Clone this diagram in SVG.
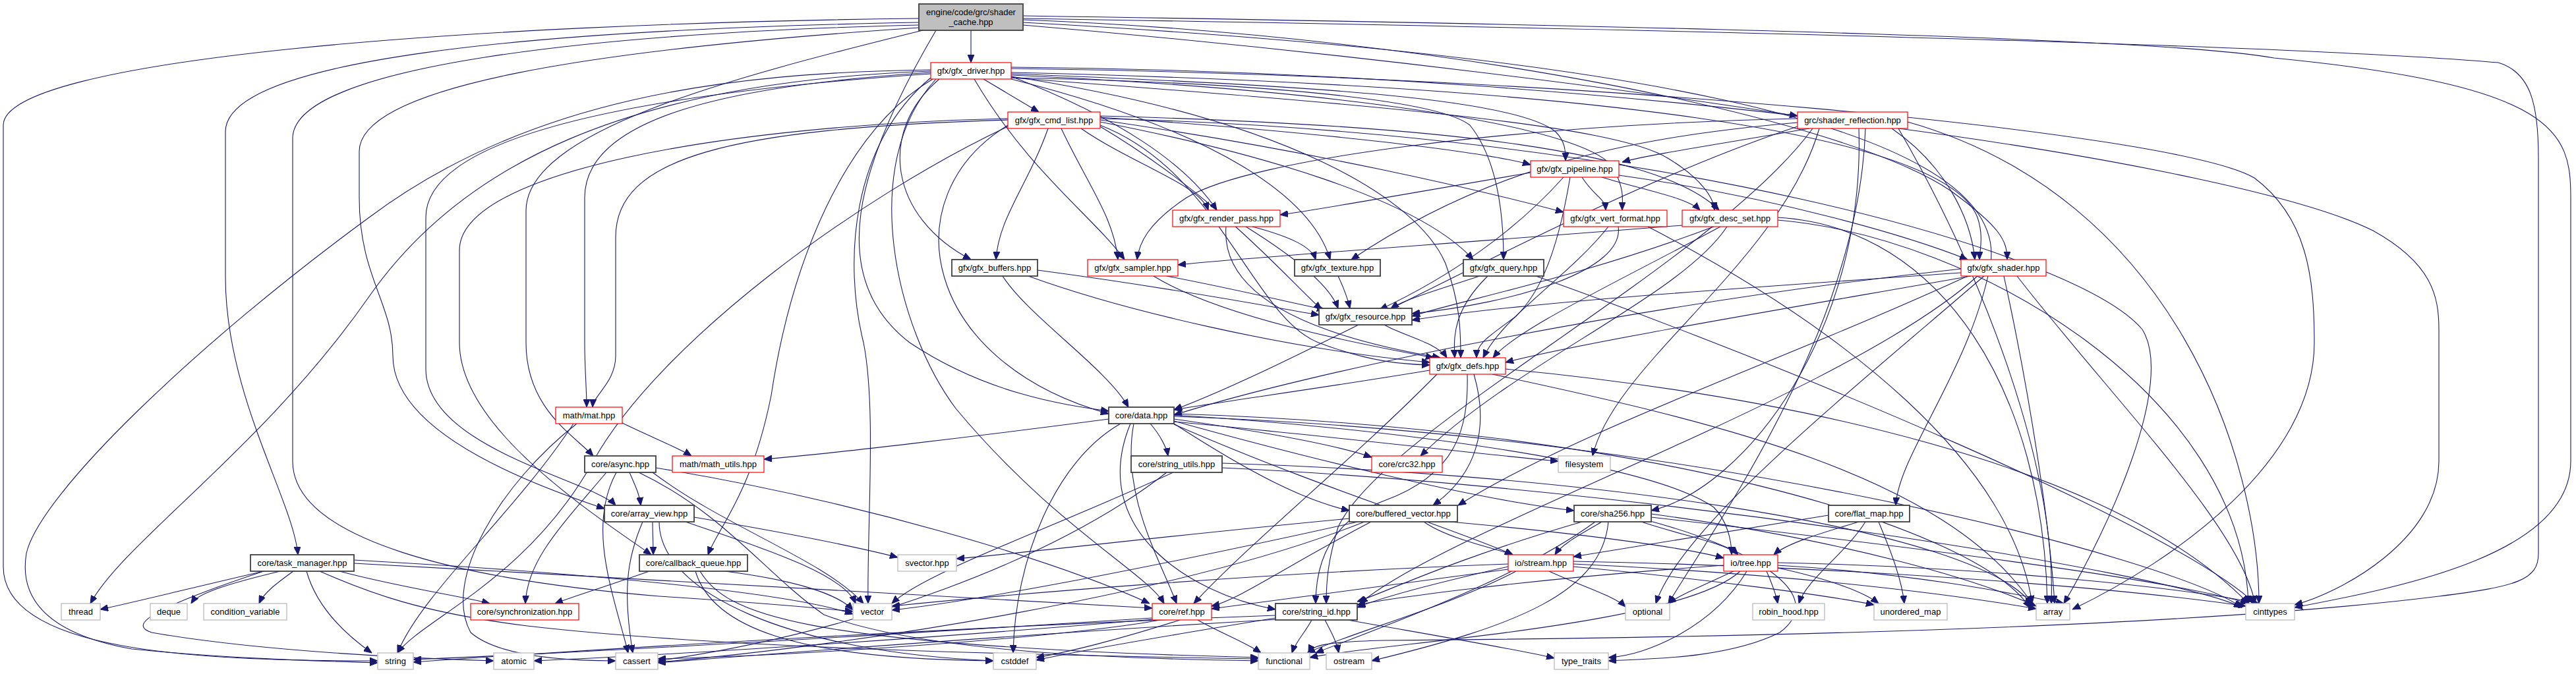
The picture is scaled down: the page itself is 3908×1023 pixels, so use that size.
<svg xmlns="http://www.w3.org/2000/svg" width="3908" height="1023" viewBox="0 0 3908 1023">
<style>
.e path{fill:none;stroke:#191970;stroke-width:1.1;marker-end:url(#ah)}
.red{fill:#fff;stroke:#ff0000;stroke-width:1.2}
.blk{fill:#fff;stroke:#404040;stroke-width:1.8}
.ext{fill:#fff;stroke:#bfbfbf;stroke-width:1.4}
.root{fill:#bfbfbf;stroke:#404040;stroke-width:1.8}
text{font-family:"Liberation Sans",Arial,sans-serif;font-size:13px;text-anchor:middle;fill:#000}
</style>
<defs>
<marker id="ah" markerUnits="userSpaceOnUse" markerWidth="12" markerHeight="10" refX="12" refY="5" orient="auto"><path d="M0,0 L12,5 L0,10 z" fill="#191970" stroke="#191970" stroke-width="1"/></marker>
</defs>
<rect width="3908" height="1023" fill="#fff"/>
<g id="connectors" class="e">
<path d="M1473,46 L1473,95"/>
<path d="M1552,38 C2050,80 2500,140 2727,176"/>
<path d="M1394,28 C700,36 5,90 5,190 L5,860 C5,990 300,1003 573,1003"/>
<path d="M1394,34 C800,45 342,90 342,200 L342,420 C342,600 445,760 452,842"/>
<path d="M1394,38 C900,50 444,100 444,210 L444,700 C444,820 700,880 1000,905 C1200,918 1270,926 1294,928"/>
<path d="M1394,42 C900,75 545,130 545,230 L545,300 C545,420 596,460 596,540 C596,660 820,740 917,772"/>
<path d="M1400,46 C1100,120 798,200 798,320 L798,520 C798,620 870,660 900,692"/>
<path d="M1420,46 C1300,250 1250,420 1380,520 C1500,600 1620,615 1682,624"/>
<path d="M1552,30 C2200,55 2800,180 2960,290 C3035,345 3045,365 3045,394"/>
<path d="M1552,34 C2400,80 3050,180 3020,400 C2990,560 2880,690 2876,767"/>
<path d="M1552,24 C2600,40 3300,60 3450,88 C3880,130 3900,200 3900,300 L3900,700 C3900,840 3650,890 3481,922"/>
<path d="M1552,28 C2600,45 3500,70 3790,95 C3840,110 3851,160 3851,240 L3851,840 C3851,880 3820,890 3700,905 C3300,955 2600,968 2100,972 C2010,974 1990,980 1985,991"/>
<path d="M1492,120 L1576,170"/>
<path d="M1534,116 C1700,180 1800,250 1846,319"/>
<path d="M1478,120 C1560,260 1660,330 1706,394"/>
<path d="M1425,120 C1330,200 1350,330 1473,394"/>
<path d="M1415,120 C1280,200 1200,400 1170,600 C1140,750 1090,800 1074,842"/>
<path d="M1420,120 C1300,250 1360,500 1450,620 C1600,800 1740,870 1766,916"/>
<path d="M1412,118 C1290,220 1280,400 1310,520 C1330,620 1315,800 1317,916"/>
<path d="M1412,110 C1100,130 887,180 887,300 L887,520 C887,560 890,590 890,618"/>
<path d="M1412,112 C1000,140 646,200 646,330 L646,560 C646,680 900,730 934,767"/>
<path d="M1412,108 C950,125 700,250 560,450 C400,680 190,820 137,916"/>
<path d="M1412,106 C1100,110 800,150 560,330 C300,520 60,750 40,840 C30,900 60,960 200,985 C350,1000 480,1003 573,1006"/>
<path d="M1534,112 C2000,130 2300,150 2360,200 C2375,215 2375,230 2375,244"/>
<path d="M1534,114 C2100,140 2430,200 2450,260 C2465,290 2461,305 2461,319"/>
<path d="M1534,118 C2100,160 2450,190 2530,240 C2580,270 2600,300 2601,319"/>
<path d="M1534,118 C1900,125 2180,150 2230,190 C2270,240 2281,320 2281,394"/>
<path d="M1534,110 C2400,130 2950,200 3000,330 C3010,360 3003,380 3003,394"/>
<path d="M1534,120 C1850,200 1990,300 2018,394"/>
<path d="M1534,116 C1950,180 2150,300 2193,400 C2215,460 2216,500 2216,543"/>
<path d="M1534,104 C2400,115 3300,200 3420,270 C3500,330 3511,420 3511,520 C3511,700 3300,850 3144,925"/>
<path d="M1534,102 C2500,110 3400,250 3600,350 C3690,400 3700,450 3700,500 L3700,700 C3700,820 3550,900 3481,918"/>
<path d="M1529,180 C1100,190 697,260 697,380 L697,520 C697,650 900,780 988,842"/>
<path d="M1640,195 C1720,250 1820,280 1833,319"/>
<path d="M1590,195 C1560,280 1515,330 1511,394"/>
<path d="M1610,195 C1650,280 1690,330 1696,394"/>
<path d="M1669,185 C1900,230 2150,300 2235,394"/>
<path d="M1669,178 C2000,200 2250,230 2322,250"/>
<path d="M1669,182 C2000,230 2250,290 2372,322"/>
<path d="M1669,176 C2200,190 2520,230 2608,319"/>
<path d="M1529,182 C1100,195 934,240 934,360 L934,540 C934,580 900,600 899,618"/>
<path d="M1669,190 C1850,260 1900,480 2000,520 C2080,550 2130,553 2169,554"/>
<path d="M1669,192 C1850,300 1950,420 2005,470"/>
<path d="M1529,190 C1350,300 1400,550 1682,628"/>
<path d="M1529,192 C1300,300 1000,520 900,700 C800,880 640,940 603,991"/>
<path d="M1669,180 C2500,200 3150,380 3250,500 C3300,580 3200,800 3131,916"/>
<path d="M2745,195 C2600,220 2500,235 2461,246"/>
<path d="M2870,195 C2950,250 2990,330 2996,394"/>
<path d="M2727,180 C2300,190 1900,240 1800,300 C1740,340 1728,370 1725,394"/>
<path d="M2727,186 C2450,210 2250,260 2050,394"/>
<path d="M2820,195 C2830,500 2650,740 2505,775"/>
<path d="M2760,195 C2700,400 2450,550 2416,692"/>
<path d="M2727,192 C2400,300 2000,540 1781,622"/>
<path d="M2750,195 C2600,400 2100,650 2030,800 C2015,850 2012,880 2012,916"/>
<path d="M2830,195 C2820,500 2600,800 2531,916"/>
<path d="M2880,195 C3000,400 3120,700 3112,916"/>
<path d="M2894,185 C3300,300 3427,700 3427,916"/>
<path d="M2322,262 C2100,300 1990,320 1942,326"/>
<path d="M2372,269 C2300,350 2200,420 2093,470"/>
<path d="M2400,269 C2420,300 2435,300 2436,319"/>
<path d="M2430,269 C2500,290 2560,300 2579,319"/>
<path d="M2456,266 C2700,300 2900,360 2985,394"/>
<path d="M2382,269 C2360,400 2330,450 2300,480 C2260,510 2240,520 2240,543"/>
<path d="M1900,344 C1960,360 1990,375 1996,394"/>
<path d="M1890,344 C1980,400 2020,440 2030,468"/>
<path d="M1860,344 C1850,470 2050,520 2185,543"/>
<path d="M2440,344 C2380,420 2280,480 2250,543"/>
<path d="M2455,344 C2465,410 2300,460 2142,476"/>
<path d="M2500,344 C2800,500 3050,700 3083,916"/>
<path d="M2552,342 C2200,370 1900,390 1787,402"/>
<path d="M2600,344 C2400,420 2200,460 2142,480"/>
<path d="M2610,344 C2450,430 2300,500 2265,543"/>
<path d="M2697,330 C2950,345 3100,600 3106,916"/>
<path d="M2697,334 C3000,360 3400,600 3411,916"/>
<path d="M2620,344 C2550,450 2300,550 2155,692"/>
<path d="M1574,410 C1800,440 1950,470 2001,478"/>
<path d="M1560,419 C1700,470 1950,530 2169,550"/>
<path d="M1521,419 C1560,480 1680,560 1712,618"/>
<path d="M1770,419 C1880,440 1960,460 2010,470"/>
<path d="M1750,419 C1850,480 2050,520 2175,543"/>
<path d="M2030,419 C2040,440 2045,455 2048,468"/>
<path d="M2245,419 C2180,440 2130,455 2110,468"/>
<path d="M2257,419 C2205,470 2205,510 2207,543"/>
<path d="M2330,419 C2700,550 3300,800 3421,916"/>
<path d="M2975,414 C2600,440 2300,460 2142,486"/>
<path d="M2990,419 C2700,470 2400,520 2284,550"/>
<path d="M2975,408 C2500,460 2000,560 1781,630"/>
<path d="M3000,419 C2800,600 2200,800 2063,916"/>
<path d="M3040,419 C3080,600 3110,800 3117,916"/>
<path d="M3060,419 C3200,600 3400,800 3421,916"/>
<path d="M2985,419 C2700,550 2400,650 2212,767"/>
<path d="M3010,419 C2800,600 2550,800 2512,916"/>
<path d="M2100,493 C2130,510 2180,520 2195,543"/>
<path d="M2169,562 C2000,590 1850,610 1781,622"/>
<path d="M2226,568 C2228,650 2210,720 2100,760 C2020,790 1996,850 1996,916"/>
<path d="M2236,568 C2260,650 2240,720 2174,767"/>
<path d="M2180,568 C2050,700 1900,820 1811,916"/>
<path d="M2264,568 C2600,640 2950,720 3083,916"/>
<path d="M2284,560 C2700,600 3200,700 3411,916"/>
<path d="M940,640 C980,660 1030,680 1049,692"/>
<path d="M870,643 C780,780 640,900 603,991"/>
<path d="M875,643 C760,733 670,880 714,960 C760,1000 880,1003 934,1003"/>
<path d="M1682,636 C1500,660 1250,690 1159,697"/>
<path d="M1745,643 C1760,660 1770,680 1772,692"/>
<path d="M1781,636 C1950,660 2040,680 2081,694"/>
<path d="M1781,640 C2000,660 2250,690 2364,700"/>
<path d="M1781,643 C1900,720 1980,760 2047,775"/>
<path d="M1781,639 C2000,700 2250,760 2388,775"/>
<path d="M1781,630 C2100,650 2500,700 2600,770 C2620,790 2627,820 2627,842"/>
<path d="M1781,644 C2000,740 2200,800 2295,842"/>
<path d="M1720,643 C1700,750 1760,850 1785,916"/>
<path d="M1700,643 C1600,700 1540,850 1537,991"/>
<path d="M1715,643 C1650,800 1800,900 1935,925"/>
<path d="M1781,628 C2500,650 3000,800 3080,923"/>
<path d="M1781,632 C2600,660 3300,850 3401,922"/>
<path d="M955,717 C965,740 970,750 972,767"/>
<path d="M920,717 C850,800 800,850 797,916"/>
<path d="M935,717 C890,800 930,900 953,991"/>
<path d="M995,710 C1300,760 1600,850 1744,916"/>
<path d="M990,717 C1100,800 1250,850 1310,916"/>
<path d="M969,717 C1100,780 1160,870 1250,933 C1400,990 1700,1000 1909,1003"/>
<path d="M1053,785 C1200,810 1300,830 1362,846"/>
<path d="M1040,792 C1150,830 1280,870 1298,916"/>
<path d="M975,792 C950,850 945,900 960,991"/>
<path d="M990,792 C990,810 991,820 991,842"/>
<path d="M1000,792 C1000,900 1200,990 1507,1003"/>
<path d="M400,867 C300,890 200,915 152,925"/>
<path d="M425,867 C350,885 300,900 290,916"/>
<path d="M445,867 C420,885 400,900 393,916"/>
<path d="M515,867 C600,890 700,905 743,916"/>
<path d="M465,867 C480,920 520,960 564,991"/>
<path d="M400,867 C210,930 200,950 230,960 C400,990 650,1000 749,1003"/>
<path d="M537,850 C900,870 1200,900 1294,932"/>
<path d="M537,855 C1000,880 1500,910 1748,923"/>
<path d="M485,867 C560,900 640,930 800,950 C1100,985 1600,995 1909,1000"/>
<path d="M985,867 C920,890 870,905 842,916"/>
<path d="M1100,867 C1200,880 1270,900 1294,926"/>
<path d="M1055,867 C1080,950 1200,1000 1507,1003"/>
<path d="M1062,867 C1100,930 1200,980 1909,998"/>
<path d="M1780,717 C1600,800 1400,870 1353,916"/>
<path d="M1770,717 C1600,850 1300,960 998,1003"/>
<path d="M1854,703 C2400,720 3000,800 3083,918"/>
<path d="M1854,710 C2500,740 3300,870 3401,922"/>
<path d="M2160,792 C2200,820 2280,835 2295,842"/>
<path d="M2047,787 C1800,810 1550,840 1451,848"/>
<path d="M2060,792 C1800,850 1500,910 1353,926"/>
<path d="M2080,792 C1950,860 1880,910 1838,920"/>
<path d="M2070,792 C1800,900 1300,980 998,1005"/>
<path d="M2200,792 C2400,810 2550,830 2615,847"/>
<path d="M2430,792 C2400,810 2370,825 2359,842"/>
<path d="M2490,792 C2560,815 2620,825 2637,842"/>
<path d="M2400,792 C2200,850 2100,900 2059,913"/>
<path d="M2420,792 C2300,880 2100,950 1996,991"/>
<path d="M2440,792 C2430,900 2300,950 2081,1003"/>
<path d="M2500,790 C2650,830 2780,900 2700,960 C2620,1000 2500,1000 2440,1003"/>
<path d="M2505,780 C2800,820 3000,880 3089,920"/>
<path d="M2505,785 C2900,830 3300,880 3411,916"/>
<path d="M2774,782 C2600,810 2450,835 2387,845"/>
<path d="M2820,792 C2760,810 2710,825 2691,842"/>
<path d="M2830,792 C2800,840 2740,880 2729,916"/>
<path d="M2850,792 C2870,840 2885,880 2889,916"/>
<path d="M2288,860 C2200,880 2100,905 2059,922"/>
<path d="M2288,864 C2100,890 1900,915 1838,924"/>
<path d="M2350,867 C2400,890 2450,905 2466,921"/>
<path d="M2387,860 C2600,880 2780,905 2843,918"/>
<path d="M2387,856 C2700,870 2950,900 3089,924"/>
<path d="M2387,852 C2800,860 3200,890 3407,920"/>
<path d="M2300,867 C2200,920 2050,960 1983,991"/>
<path d="M2288,856 C1900,870 1500,905 1353,920"/>
<path d="M2630,867 C2580,890 2545,905 2531,916"/>
<path d="M2680,867 C2690,890 2695,905 2697,916"/>
<path d="M2697,862 C2780,880 2830,900 2850,916"/>
<path d="M2697,858 C2900,870 3050,900 3131,916"/>
<path d="M2697,854 C3000,860 3300,890 3427,916"/>
<path d="M2615,858 C2300,880 2100,910 2059,918"/>
<path d="M2640,867 C2550,950 2100,975 1987,998"/>
<path d="M2650,867 C2600,950 2500,995 2440,998"/>
<path d="M1748,938 C1400,960 900,990 627,1001"/>
<path d="M1750,940 C1400,970 1000,995 810,1003"/>
<path d="M1760,941 C1600,970 1200,995 998,1000"/>
<path d="M1817,941 C1850,960 1890,975 1913,991"/>
<path d="M1790,941 C1700,970 1620,990 1572,998"/>
<path d="M1990,941 C1980,960 1965,975 1960,991"/>
<path d="M2010,941 C2020,960 2028,975 2031,991"/>
<path d="M2045,941 C2150,960 2300,985 2358,999"/>
<path d="M1935,938 C1800,960 1650,985 1572,1002"/>
<path d="M1935,934 C1500,950 900,985 627,1005"/>
<path d="M1940,940 C1600,960 1200,990 998,1006"/>
</g>
<g id="nodes">
<g id="node-root"><rect class="root" x="1394" y="6" width="158" height="40"/><text x="1473" y="23">engine/code/grc/shader</text><text x="1473" y="38">_cache.hpp</text></g>
<g id="node-gfx-driver"><rect class="red" x="1412" y="95" width="122" height="25"/><text x="1473" y="112">gfx/gfx_driver.hpp</text></g>
<g id="node-gfx-cmd-list"><rect class="red" x="1529" y="170" width="140" height="25"/><text x="1599" y="187">gfx/gfx_cmd_list.hpp</text></g>
<g id="node-shader-reflection"><rect class="red" x="2727" y="170" width="167" height="25"/><text x="2810.5" y="187">grc/shader_reflection.hpp</text></g>
<g id="node-gfx-pipeline"><rect class="red" x="2322" y="244" width="134" height="25"/><text x="2389" y="261">gfx/gfx_pipeline.hpp</text></g>
<g id="node-gfx-render-pass"><rect class="red" x="1779" y="319" width="163" height="25"/><text x="1860.5" y="336">gfx/gfx_render_pass.hpp</text></g>
<g id="node-gfx-vert-format"><rect class="red" x="2372" y="319" width="157" height="25"/><text x="2450.5" y="336">gfx/gfx_vert_format.hpp</text></g>
<g id="node-gfx-desc-set"><rect class="red" x="2552" y="319" width="145" height="25"/><text x="2624.5" y="336">gfx/gfx_desc_set.hpp</text></g>
<g id="node-gfx-buffers"><rect class="blk" x="1444" y="394" width="130" height="25"/><text x="1509" y="411">gfx/gfx_buffers.hpp</text></g>
<g id="node-gfx-sampler"><rect class="red" x="1650" y="394" width="137" height="25"/><text x="1718.5" y="411">gfx/gfx_sampler.hpp</text></g>
<g id="node-gfx-texture"><rect class="blk" x="1964" y="394" width="130" height="25"/><text x="2029" y="411">gfx/gfx_texture.hpp</text></g>
<g id="node-gfx-query"><rect class="blk" x="2220" y="394" width="122" height="25"/><text x="2281" y="411">gfx/gfx_query.hpp</text></g>
<g id="node-gfx-shader"><rect class="red" x="2975" y="394" width="129" height="25"/><text x="3039.5" y="411">gfx/gfx_shader.hpp</text></g>
<g id="node-gfx-resource"><rect class="blk" x="2001" y="468" width="141" height="25"/><text x="2071.5" y="485">gfx/gfx_resource.hpp</text></g>
<g id="node-gfx-defs"><rect class="red" x="2169" y="543" width="115" height="25"/><text x="2226.5" y="560">gfx/gfx_defs.hpp</text></g>
<g id="node-math-mat"><rect class="red" x="843" y="618" width="101" height="25"/><text x="893.5" y="635">math/mat.hpp</text></g>
<g id="node-core-data"><rect class="blk" x="1682" y="618" width="99" height="25"/><text x="1731.5" y="635">core/data.hpp</text></g>
<g id="node-core-async"><rect class="blk" x="887" y="692" width="108" height="25"/><text x="941" y="709">core/async.hpp</text></g>
<g id="node-math-utils"><rect class="red" x="1020" y="692" width="139" height="25"/><text x="1089.5" y="709">math/math_utils.hpp</text></g>
<g id="node-string-utils"><rect class="blk" x="1716" y="692" width="138" height="25"/><text x="1785" y="709">core/string_utils.hpp</text></g>
<g id="node-crc32"><rect class="red" x="2081" y="692" width="107" height="25"/><text x="2134.5" y="709">core/crc32.hpp</text></g>
<g id="node-filesystem"><rect class="ext" x="2364" y="692" width="79" height="25"/><text x="2403.5" y="709">filesystem</text></g>
<g id="node-array-view"><rect class="blk" x="917" y="767" width="136" height="25"/><text x="985" y="784">core/array_view.hpp</text></g>
<g id="node-buffered-vector"><rect class="blk" x="2047" y="767" width="164" height="25"/><text x="2129" y="784">core/buffered_vector.hpp</text></g>
<g id="node-sha256"><rect class="blk" x="2388" y="767" width="117" height="25"/><text x="2446.5" y="784">core/sha256.hpp</text></g>
<g id="node-flat-map"><rect class="blk" x="2774" y="767" width="123" height="25"/><text x="2835.5" y="784">core/flat_map.hpp</text></g>
<g id="node-task-manager"><rect class="blk" x="380" y="842" width="157" height="25"/><text x="458.5" y="859">core/task_manager.hpp</text></g>
<g id="node-callback-queue"><rect class="blk" x="970" y="842" width="164" height="25"/><text x="1052" y="859">core/callback_queue.hpp</text></g>
<g id="node-svector"><rect class="ext" x="1362" y="842" width="89" height="25"/><text x="1406.5" y="859">svector.hpp</text></g>
<g id="node-io-stream"><rect class="red" x="2288" y="842" width="99" height="25"/><text x="2337.5" y="859">io/stream.hpp</text></g>
<g id="node-io-tree"><rect class="red" x="2615" y="842" width="82" height="25"/><text x="2656" y="859">io/tree.hpp</text></g>
<g id="node-thread"><rect class="ext" x="93" y="916" width="59" height="25"/><text x="122.5" y="933">thread</text></g>
<g id="node-deque"><rect class="ext" x="228" y="916" width="56" height="25"/><text x="256" y="933">deque</text></g>
<g id="node-condition-variable"><rect class="ext" x="309" y="916" width="126" height="25"/><text x="372" y="933">condition_variable</text></g>
<g id="node-synchronization"><rect class="red" x="714" y="916" width="164" height="25"/><text x="796" y="933">core/synchronization.hpp</text></g>
<g id="node-vector"><rect class="ext" x="1294" y="916" width="59" height="25"/><text x="1323.5" y="933">vector</text></g>
<g id="node-ref"><rect class="red" x="1748" y="916" width="90" height="25"/><text x="1793" y="933">core/ref.hpp</text></g>
<g id="node-string-id"><rect class="blk" x="1935" y="916" width="124" height="25"/><text x="1997" y="933">core/string_id.hpp</text></g>
<g id="node-optional"><rect class="ext" x="2466" y="916" width="67" height="25"/><text x="2499.5" y="933">optional</text></g>
<g id="node-robin-hood"><rect class="ext" x="2659" y="916" width="109" height="25"/><text x="2713.5" y="933">robin_hood.hpp</text></g>
<g id="node-unordered-map"><rect class="ext" x="2843" y="916" width="111" height="25"/><text x="2898.5" y="933">unordered_map</text></g>
<g id="node-array"><rect class="ext" x="3089" y="916" width="51" height="25"/><text x="3114.5" y="933">array</text></g>
<g id="node-cinttypes"><rect class="ext" x="3407" y="916" width="74" height="25"/><text x="3444" y="933">cinttypes</text></g>
<g id="node-string"><rect class="ext" x="573" y="991" width="54" height="25"/><text x="600" y="1008">string</text></g>
<g id="node-atomic"><rect class="ext" x="749" y="991" width="61" height="25"/><text x="779.5" y="1008">atomic</text></g>
<g id="node-cassert"><rect class="ext" x="934" y="991" width="64" height="25"/><text x="966" y="1008">cassert</text></g>
<g id="node-cstddef"><rect class="ext" x="1507" y="991" width="65" height="25"/><text x="1539.5" y="1008">cstddef</text></g>
<g id="node-functional"><rect class="ext" x="1909" y="991" width="78" height="25"/><text x="1948" y="1008">functional</text></g>
<g id="node-ostream"><rect class="ext" x="2012" y="991" width="69" height="25"/><text x="2046.5" y="1008">ostream</text></g>
<g id="node-type-traits"><rect class="ext" x="2358" y="991" width="82" height="25"/><text x="2399" y="1008">type_traits</text></g>
</g>
</svg>
